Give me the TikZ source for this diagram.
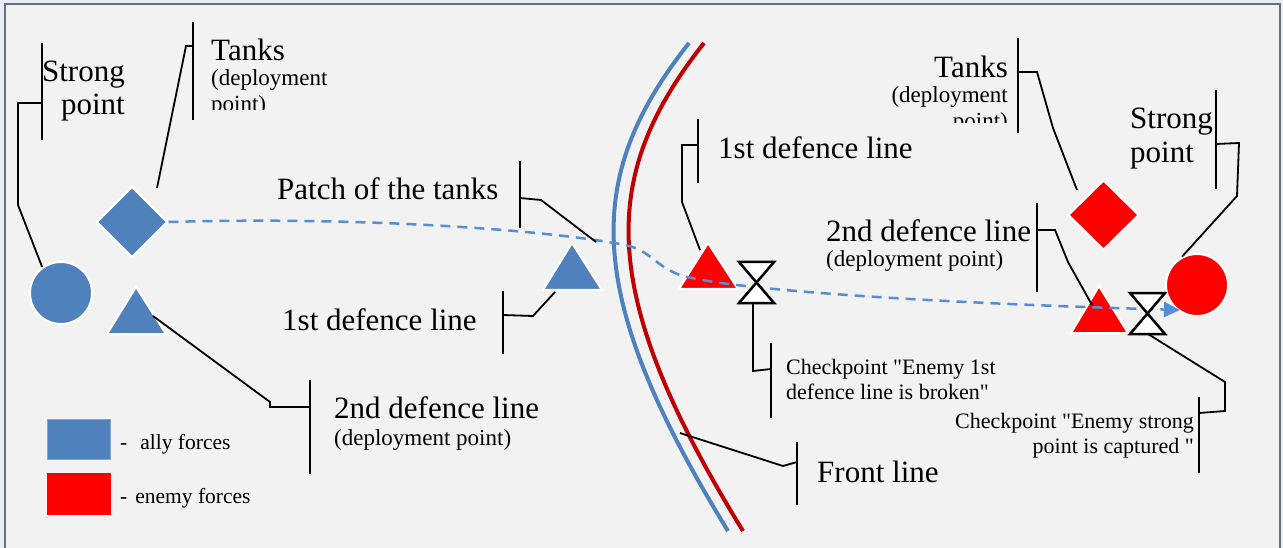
\documentclass[tikz,border=0pt]{standalone}
\usepackage{fontspec}
\setmainfont{Liberation Serif}
\usetikzlibrary{shapes.geometric,arrows.meta}
\definecolor{ally}{HTML}{4F81BD}
\definecolor{allyedge}{HTML}{7EA6D8}
\definecolor{enemy}{HTML}{FF0000}
\definecolor{pathblue}{HTML}{558ED5}
\definecolor{frontred}{HTML}{C00000}
\definecolor{paper}{HTML}{F2F2F2}
\definecolor{framegray}{HTML}{6E6E6E}
\definecolor{outside}{HTML}{E4EFFA}
\begin{document}
\begin{tikzpicture}[x=1pt,y=-1pt,
  bigtxt/.style={inner sep=0pt,font=\fontsize{31}{33}\selectfont},
  smalltxt/.style={inner sep=0pt,font=\fontsize{23}{25}\selectfont},
  cptxt/.style={inner sep=0pt,font=\fontsize{22}{25}\selectfont},
  legtxt/.style={inner sep=0pt,font=\fontsize{21.5}{24}\selectfont},
  callbar/.style={line width=2pt,black},
  leader/.style={line width=1.8pt,black,line join=miter},
  allyshape/.style={fill=ally,draw=white,line width=2pt},
  enemyshape/.style={fill=enemy,draw=white,line width=2pt},
  checkshape/.style={fill=white,draw=black,line width=2.5pt,line join=miter},
  frontline/.style={line width=4pt},
  tankpath/.style={pathblue,line width=2.5pt,dash pattern=on 10pt off 7pt,-{Triangle[length=16pt,width=15pt]}}
]
\useasboundingbox (0,0) rectangle (1283,548);
\fill[outside] (0,0) rectangle (1283,548);
\draw[fill=paper,draw=framegray,line width=2.5pt] (5,4) rectangle (1280,570);

% ---------- front line ----------
\coordinate (fbTop) at (689,43);
\coordinate (fbBot) at (728,531);
\coordinate (frTop) at (704,43);
\coordinate (frBot) at (743,531);
\draw[frontline,ally] (fbTop) .. controls (585,175) and (580,290) .. (fbBot);
\draw[frontline,frontred] (frTop) .. controls (600,175) and (595,290) .. (frBot);

% ---------- shapes ----------
\node[circle,allyshape,minimum size=62pt,inner sep=0pt] (cL) at (61,293) {};
\node[diamond,allyshape,minimum width=71pt,minimum height=71pt,inner sep=0pt] (dL) at (132,222) {};
\path[allyshape] (107,334) -- (136,287) -- (166,334) -- cycle;
\coordinate (tL) at (136,318);
\path[allyshape] (543,290) -- (572,243) -- (602,290) -- cycle;
\coordinate (tM) at (572,274);
\path[enemyshape] (679,289) -- (708,243) -- (738,289) -- cycle;
\coordinate (tR1) at (708,274);
\path[enemyshape] (1071,333) -- (1099,286) -- (1128,333) -- cycle;
\coordinate (tR2) at (1099,317);
\node[diamond,enemyshape,minimum width=71pt,minimum height=70pt,inner sep=0pt] (dR) at (1103.5,215) {};
\node[circle,enemyshape,minimum size=62pt,inner sep=0pt] (cR) at (1197,285) {};

% ---------- path of the tanks ----------
\coordinate (pathstart) at (dL.east);
\coordinate (pathbend) at (680,275);
\coordinate (pathend) at (1180,310);
\draw[tankpath] (pathstart) .. controls (380,216) and (560,232) .. (625,245)
  .. controls (650,250) and (655,266) .. (pathbend)
  .. controls (720,288) and (900,302) .. (pathend);

% ---------- checkpoints ----------
\path[checkshape] (739,262) -- (774,262) -- (739,303) -- (774,303) -- cycle;
\coordinate (hg1) at (753,303);
\path[checkshape] (1130,293) -- (1165,293) -- (1130,334) -- (1165,334) -- cycle;
\coordinate (hg2) at (1148,334);

% ---------- callout: left strong point ----------
\node[bigtxt,anchor=base east] (spL1) at (125,82) {Strong};
\node[bigtxt,anchor=base east] (spL2) at (125,115) {point};
\draw[callbar] (42,43) -- (42,140);
\draw[leader] (42,103) -- (18,103) -- (18,205) -- (cL.126);

% ---------- callout: left tanks ----------
\node[bigtxt,anchor=base west] (tkL1) at (211,61) {Tanks};
\node[smalltxt,anchor=base west] (tkL2) at (211,86) {(deployment};
\begin{scope}
\clip (200,0) rectangle (400,110);
\node[smalltxt,anchor=base west] (tkL3) at (211,112) {point)};
\end{scope}
\draw[callbar] (193,22) -- (193,120);
\coordinate (dLtop) at (157,188);
\draw[leader] (193,46) -- (186,46) -- (dLtop);

% ---------- callout: patch of the tanks ----------
\node[bigtxt,anchor=base west] (patch) at (277,200) {Patch of the tanks};
\draw[callbar] (520,161) -- (520,228);
\coordinate (patchpt) at (596,242);
\draw[leader] (520,198) -- (541,200) -- (patchpt);

% ---------- callout: left 1st defence line ----------
\node[bigtxt,anchor=base west] (fdL) at (282,330) {1st defence line};
\draw[callbar] (503,291) -- (503,354);
\coordinate (tMleft) at (555,292);
\draw[leader] (503,315) -- (533,316) -- (tMleft);

% ---------- callout: left 2nd defence line ----------
\node[bigtxt,anchor=base west] (sdL1) at (334,418) {2nd defence line};
\node[smalltxt,anchor=base west] (sdL2) at (334,445) {(deployment point)};
\draw[callbar] (310,380) -- (310,474);
\coordinate (tLright) at (153,316);
\draw[leader] (310,407) -- (270,407) -- (270,402) -- (tLright);

% ---------- legend ----------
\node[draw=allyedge,fill=ally,line width=1.5pt,minimum width=63pt,minimum height=40pt,inner sep=0pt] (legA) at (79,439.5) {};
\node[fill=enemy,minimum width=64pt,minimum height=42pt,inner sep=0pt] (legE) at (79,494) {};
\node[legtxt,anchor=base west] (legAt) at (120,449) {-\hspace{13pt}ally forces};
\node[legtxt,anchor=base west] (legEt) at (120,503) {-\hspace{8pt}enemy forces};

% ---------- callout: right 1st defence line ----------
\node[bigtxt,anchor=base west] (fdR) at (718,159) {1st defence line};
\draw[callbar] (698,119) -- (698,183);
\coordinate (tR1top) at (700,250);
\draw[leader] (698,145) -- (682,145) -- (682,202) -- (tR1top);

% ---------- callout: checkpoint 1 ----------
\node[cptxt,anchor=base west] (cp1a) at (786,374) {Checkpoint \textquotedbl Enemy 1st};
\node[cptxt,anchor=base west] (cp1b) at (786,399) {defence line is broken\textquotedbl};
\draw[callbar] (771,343) -- (771,418);
\draw[leader] (hg1) -- (753,371) -- (771,369);

% ---------- callout: front line ----------
\node[bigtxt,anchor=base west] (front) at (817,482) {Front line};
\draw[callbar] (797,442) -- (797,505);
\coordinate (frontpt) at (680,433);
\draw[leader] (frontpt) -- (783,466) -- (797,462);

% ---------- callout: right tanks ----------
\node[bigtxt,anchor=base east] (tkR1) at (1008,78) {Tanks};
\node[smalltxt,anchor=base east] (tkR2) at (1008,103) {(deployment};
\begin{scope}
\clip (880,0) rectangle (1012,123);
\node[smalltxt,anchor=base east] (tkR3) at (1008,129) {point)};
\end{scope}
\draw[callbar] (1018,38) -- (1018,133);
\coordinate (dRtop) at (1077,190);
\draw[leader] (1018,72) -- (1037,72) -- (1053,128) -- (dRtop);

% ---------- callout: right strong point ----------
\node[bigtxt,anchor=base west] (spR1) at (1130,129) {Strong};
\node[bigtxt,anchor=base west] (spR2) at (1130,163) {point};
\draw[callbar] (1216,90) -- (1216,189);
\draw[leader] (1216,144) -- (1239,143) -- (1237,196) -- (cR.118);

% ---------- callout: right 2nd defence line ----------
\node[bigtxt,anchor=base west] (sdR1) at (826,242) {2nd defence line};
\node[smalltxt,anchor=base west] (sdR2) at (826,267) {(deployment point)};
\draw[callbar] (1037,203) -- (1037,292);
\coordinate (tR2top) at (1092,305);
\draw[leader] (1037,230) -- (1055,230) -- (1068,262) -- (tR2top);

% ---------- callout: checkpoint 2 ----------
\node[cptxt,anchor=base east] (cp2a) at (1194,428) {Checkpoint \textquotedbl Enemy strong};
\node[cptxt,anchor=base east] (cp2b) at (1194,453) {point is captured \textquotedbl};
\draw[callbar] (1199,397) -- (1199,473);
\draw[leader] (hg2) -- (1225,382) -- (1225,411) -- (1199,413);
\end{tikzpicture}
\end{document}
